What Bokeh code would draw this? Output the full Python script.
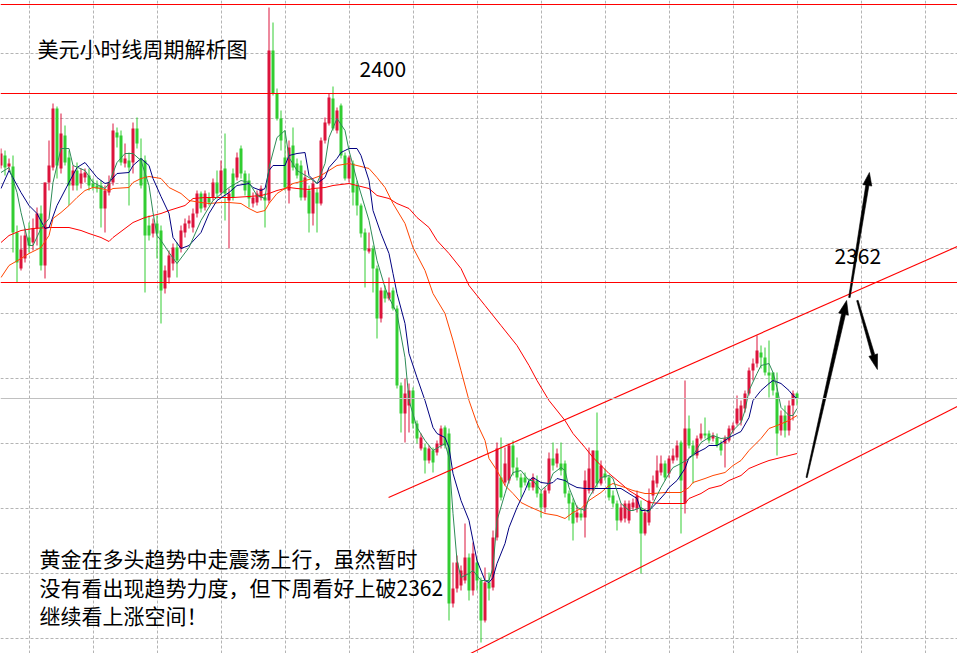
import math
from bokeh.plotting import figure
from bokeh.models import Range1d, FixedTicker, Span, Label, ColumnDataSource
from bokeh.embed import file_html
from bokeh.resources import INLINE

# ---------------- data (hourly candles, price units) ----------------
open_ = [2385.6, 2387.6, 2385.4, 2385.4, 2372.2, 2365.0, 2367.0, 2371.2, 2370.2, 2373.0,
         2376.0, 2365.6, 2382.2, 2385.2, 2397.0, 2385.0, 2391.6, 2387.2, 2381.6, 2384.6,
         2382.0, 2383.2, 2383.6, 2382.0, 2381.6, 2381.6, 2377.0, 2380.2, 2382.2, 2392.2,
         2391.6, 2386.0, 2386.6, 2386.2, 2393.0, 2387.0, 2386.6, 2373.6, 2372.0, 2374.0,
         2372.6, 2361.0, 2363.2, 2366.0, 2369.2, 2369.0, 2372.2, 2374.0, 2373.2, 2376.0,
         2380.0, 2377.2, 2379.2, 2379.2, 2382.2, 2380.2, 2385.0, 2378.6, 2384.0, 2383.2,
         2389.0, 2384.0, 2382.6, 2378.0, 2378.2, 2379.2, 2379.2, 2378.6, 2408.6, 2400.0,
         2395.0, 2387.2, 2380.6, 2389.6, 2386.0, 2385.6, 2379.2, 2380.6, 2376.0, 2380.2,
         2378.0, 2390.6, 2394.0, 2399.0, 2392.6, 2397.6, 2387.6, 2383.0, 2386.0, 2381.6,
         2377.6, 2372.2, 2368.4, 2369.0, 2365.0, 2355.0, 2360.6, 2359.0, 2360.6, 2357.0,
         2341.6, 2336.0, 2337.6, 2340.6, 2334.0, 2329.0, 2329.2, 2326.6, 2328.6, 2328.2,
         2329.6, 2333.2, 2332.0, 2298.0, 2301.0, 2301.6, 2302.6, 2307.2, 2300.6, 2306.2,
         2302.6, 2294.6, 2302.2, 2301.2, 2311.2, 2323.2, 2322.2, 2322.6, 2329.6, 2325.2,
         2323.2, 2323.2, 2322.2, 2321.2, 2322.6, 2320.0, 2317.2, 2320.6, 2327.0, 2326.0,
         2326.0, 2326.0, 2320.0, 2318.2, 2315.2, 2316.0, 2315.2, 2320.6, 2320.6, 2328.6,
         2322.0, 2324.0, 2323.2, 2319.6, 2318.0, 2314.6, 2315.0, 2314.6, 2317.2, 2317.0,
         2317.0, 2312.0, 2314.2, 2319.6, 2322.0, 2324.2, 2326.0, 2324.0, 2326.6, 2327.2,
         2330.2, 2318.0, 2333.0, 2329.6, 2327.6, 2331.0, 2332.0, 2332.0, 2331.0, 2331.2,
         2330.0, 2330.0, 2330.6, 2332.6, 2334.0, 2334.6, 2337.0, 2340.0, 2344.6, 2346.0,
         2348.2, 2347.2, 2344.2, 2344.2, 2340.2, 2332.6, 2335.6, 2332.6, 2337.6, 2340.0]
high = [2389.0, 2388.6, 2387.0, 2387.6, 2373.6, 2371.6, 2373.0, 2374.2, 2375.0, 2377.2,
        2377.6, 2382.2, 2390.6, 2398.0, 2397.4, 2396.0, 2393.6, 2388.6, 2385.6, 2386.2,
        2385.0, 2385.0, 2385.0, 2383.0, 2382.6, 2382.6, 2381.6, 2383.6, 2394.0, 2393.2,
        2392.6, 2390.0, 2388.2, 2394.2, 2395.2, 2391.0, 2387.6, 2375.6, 2375.0, 2375.6,
        2373.6, 2365.6, 2368.6, 2370.0, 2370.2, 2373.6, 2375.0, 2375.6, 2377.0, 2380.6,
        2380.4, 2380.6, 2380.2, 2383.0, 2384.6, 2386.6, 2392.0, 2381.0, 2385.0, 2388.2,
        2389.6, 2384.6, 2384.0, 2380.2, 2380.6, 2381.6, 2380.0, 2417.2, 2414.2, 2401.0,
        2396.6, 2392.6, 2390.6, 2393.2, 2387.0, 2386.6, 2384.6, 2381.6, 2382.6, 2381.0,
        2391.2, 2395.2, 2400.0, 2401.4, 2397.2, 2398.0, 2388.2, 2387.6, 2386.6, 2382.6,
        2378.0, 2373.0, 2372.2, 2369.6, 2365.6, 2361.2, 2361.6, 2363.2, 2361.2, 2357.6,
        2342.2, 2343.0, 2342.0, 2341.2, 2334.6, 2332.0, 2330.0, 2329.6, 2329.2, 2330.6,
        2333.6, 2333.6, 2333.0, 2306.2, 2307.6, 2305.6, 2314.0, 2308.0, 2310.2, 2307.0,
        2303.2, 2305.2, 2304.2, 2312.6, 2330.2, 2331.2, 2329.2, 2330.0, 2330.6, 2327.2,
        2324.0, 2324.2, 2323.0, 2324.0, 2323.6, 2320.6, 2321.2, 2328.2, 2330.2, 2329.0,
        2330.2, 2326.6, 2320.6, 2319.0, 2317.6, 2317.0, 2324.6, 2329.2, 2328.6, 2336.2,
        2326.6, 2325.0, 2323.6, 2320.6, 2318.6, 2318.0, 2318.6, 2318.6, 2319.0, 2320.6,
        2318.6, 2317.0, 2321.0, 2323.6, 2327.6, 2327.6, 2326.6, 2327.6, 2329.0, 2330.6,
        2330.6, 2342.6, 2335.6, 2330.6, 2331.6, 2334.0, 2335.2, 2332.6, 2332.2, 2332.0,
        2330.6, 2331.6, 2333.6, 2334.2, 2339.6, 2338.6, 2340.6, 2345.2, 2347.0, 2351.6,
        2349.6, 2349.2, 2350.6, 2344.2, 2344.2, 2336.6, 2337.6, 2338.6, 2340.6, 2340.2]
low = [2385.0, 2383.6, 2384.6, 2368.2, 2362.2, 2364.6, 2366.2, 2368.2, 2368.6, 2369.6,
       2364.6, 2363.0, 2380.6, 2384.6, 2383.0, 2384.0, 2385.6, 2377.6, 2380.6, 2380.6,
       2381.0, 2382.2, 2380.6, 2380.6, 2380.2, 2373.2, 2372.2, 2379.6, 2381.6, 2389.2,
       2385.6, 2385.2, 2377.6, 2384.0, 2389.0, 2381.0, 2360.2, 2370.6, 2371.2, 2367.0,
       2354.0, 2360.0, 2362.0, 2364.6, 2363.2, 2368.2, 2371.2, 2373.0, 2372.2, 2375.2,
       2376.2, 2376.6, 2377.6, 2378.6, 2379.0, 2379.6, 2374.6, 2369.0, 2378.6, 2382.6,
       2383.0, 2379.6, 2377.2, 2377.2, 2377.6, 2378.6, 2373.2, 2378.0, 2399.6, 2394.6,
       2388.6, 2380.6, 2378.0, 2384.6, 2383.0, 2378.6, 2378.6, 2372.2, 2373.6, 2372.2,
       2377.6, 2390.0, 2393.6, 2392.6, 2392.0, 2387.0, 2382.6, 2382.2, 2377.6, 2375.6,
       2371.2, 2361.2, 2368.0, 2360.2, 2351.0, 2354.2, 2358.2, 2358.6, 2356.6, 2341.0,
       2332.2, 2330.2, 2332.2, 2333.0, 2330.0, 2328.6, 2324.0, 2326.0, 2324.2, 2327.6,
       2329.0, 2329.0, 2294.6, 2297.2, 2300.2, 2300.6, 2302.0, 2298.6, 2299.6, 2300.6,
       2290.2, 2294.2, 2298.6, 2300.6, 2310.6, 2318.6, 2321.6, 2322.0, 2323.6, 2322.6,
       2319.2, 2321.6, 2320.6, 2320.6, 2319.2, 2315.2, 2316.2, 2320.0, 2324.6, 2325.2,
       2323.6, 2319.2, 2314.6, 2310.6, 2314.2, 2314.6, 2311.2, 2320.0, 2320.0, 2321.2,
       2321.6, 2322.6, 2318.6, 2317.2, 2312.6, 2314.2, 2314.2, 2314.0, 2316.6, 2316.2,
       2304.0, 2311.6, 2313.6, 2318.6, 2321.2, 2323.6, 2322.6, 2323.2, 2326.0, 2326.6,
       2312.0, 2316.0, 2329.0, 2322.0, 2327.0, 2330.6, 2331.0, 2330.0, 2330.4, 2329.2,
       2327.6, 2325.2, 2330.2, 2332.0, 2333.6, 2333.6, 2336.2, 2339.6, 2342.6, 2345.2,
       2345.0, 2343.6, 2339.2, 2339.6, 2327.6, 2331.6, 2331.2, 2331.6, 2334.6, 2337.6]
close = [2388.0, 2385.2, 2386.0, 2372.2, 2366.2, 2368.8, 2371.6, 2369.6, 2373.0, 2376.0,
         2365.6, 2382.2, 2385.6, 2397.0, 2385.6, 2392.0, 2386.2, 2381.6, 2384.6, 2381.6,
         2384.0, 2384.2, 2381.6, 2381.2, 2381.0, 2377.0, 2380.6, 2382.2, 2392.6, 2391.2,
         2386.2, 2387.0, 2385.2, 2393.0, 2390.0, 2381.6, 2371.6, 2371.6, 2374.0, 2372.0,
         2360.6, 2364.6, 2367.6, 2369.2, 2366.6, 2372.6, 2374.0, 2374.6, 2376.0, 2380.0,
         2377.0, 2380.0, 2378.2, 2382.2, 2380.0, 2384.6, 2380.0, 2380.0, 2379.2, 2387.2,
         2384.0, 2380.6, 2379.0, 2379.2, 2380.0, 2381.0, 2378.6, 2408.6, 2400.0, 2395.0,
         2390.6, 2381.2, 2389.2, 2385.2, 2383.6, 2379.2, 2383.2, 2376.0, 2382.0, 2378.0,
         2390.6, 2394.2, 2399.2, 2393.0, 2396.6, 2387.6, 2383.0, 2387.2, 2380.2, 2377.6,
         2372.0, 2368.6, 2369.0, 2365.0, 2355.0, 2360.6, 2359.0, 2360.2, 2357.0, 2341.6,
         2336.0, 2340.0, 2340.6, 2334.0, 2331.0, 2331.2, 2326.6, 2329.0, 2326.2, 2330.0,
         2333.0, 2329.6, 2298.0, 2301.0, 2306.2, 2304.6, 2307.2, 2300.6, 2308.0, 2302.6,
         2294.6, 2302.2, 2301.0, 2311.2, 2329.0, 2319.2, 2326.0, 2329.6, 2325.2, 2323.2,
         2321.2, 2322.2, 2321.2, 2323.2, 2320.0, 2317.2, 2320.6, 2327.0, 2325.6, 2328.0,
         2324.6, 2320.0, 2318.0, 2314.0, 2316.2, 2315.2, 2322.6, 2325.0, 2328.6, 2322.0,
         2325.6, 2323.2, 2319.2, 2318.0, 2314.6, 2317.2, 2318.0, 2318.0, 2318.2, 2319.6,
         2312.0, 2316.2, 2318.6, 2322.6, 2324.6, 2326.0, 2323.2, 2327.0, 2327.6, 2329.6,
         2322.6, 2333.0, 2329.6, 2327.6, 2331.0, 2332.0, 2331.6, 2330.6, 2331.6, 2329.6,
         2328.6, 2331.0, 2333.0, 2333.6, 2337.0, 2337.6, 2340.0, 2344.6, 2346.0, 2348.6,
         2347.2, 2344.2, 2343.6, 2340.6, 2332.0, 2335.6, 2332.6, 2337.6, 2340.0, 2339.0]

# moving averages (bar index, price)
ma_fast_idx = [0, 2, 4, 5, 7, 8, 10, 12, 13, 15, 17, 18, 21, 23, 26, 27, 29, 31, 33, 35, 37, 38, 39, 40, 42, 44, 47,
               50, 53, 57, 60, 62, 64, 66, 67, 69, 71, 72, 74, 77, 79, 81, 82, 84, 86, 87, 89, 92, 94, 96, 97, 99,
               101, 102, 104, 106, 108, 111, 112, 113, 114, 115, 117, 118, 120, 122, 123, 124, 126, 127, 128, 130,
               132, 133, 135, 137, 138, 140, 141, 142, 144, 146, 147, 150, 152, 153, 155, 157, 158, 160, 162, 163,
               165, 167, 168, 170, 172, 173, 175, 177, 178, 180, 182, 183, 185, 186, 187, 189, 190, 192, 193, 194,
               195, 197, 198, 199]
ma_fast_val = [2384.2, 2385.2, 2380.2, 2376.2, 2369.6, 2369.6, 2373.0, 2375.0, 2382.2, 2389.0, 2389.0, 2385.6,
               2384.6, 2382.2, 2381.0, 2382.0, 2386.2, 2388.0, 2388.0, 2386.6, 2381.6, 2376.2, 2371.6, 2370.6,
               2368.2, 2366.0, 2369.2, 2374.6, 2378.6, 2381.2, 2382.6, 2382.2, 2379.6, 2379.0, 2385.2, 2391.2,
               2392.6, 2387.2, 2384.6, 2383.2, 2382.0, 2386.0, 2391.2, 2395.0, 2392.6, 2388.6, 2382.6, 2374.6,
               2366.6, 2361.2, 2359.2, 2356.0, 2347.2, 2338.6, 2333.2, 2330.6, 2328.6, 2330.0, 2327.2, 2316.0,
               2306.6, 2303.2, 2304.0, 2304.6, 2302.6, 2302.6, 2305.2, 2314.6, 2320.0, 2322.6, 2324.2, 2324.6,
               2322.6, 2322.6, 2320.6, 2322.0, 2324.0, 2325.2, 2324.6, 2321.2, 2317.2, 2316.6, 2319.2, 2323.2,
               2323.6, 2323.0, 2318.0, 2316.6, 2316.6, 2317.2, 2316.2, 2318.0, 2321.2, 2324.0, 2325.2, 2326.0,
               2327.0, 2327.6, 2330.2, 2331.2, 2331.6, 2331.0, 2331.2, 2332.6, 2334.2, 2336.6, 2340.6, 2344.0,
               2345.6, 2346.0, 2344.2, 2341.2, 2337.2, 2335.6, 2335.6, 2337.0]
ma_mid_idx = [0, 2, 5, 7, 9, 11, 12, 14, 17, 19, 21, 22, 24, 26, 27, 29, 32, 33, 35, 37, 38, 40, 42, 43, 45, 47,
              50, 52, 54, 57, 59, 62, 63, 65, 66, 67, 68, 71, 72, 74, 76, 77, 79, 81, 82, 84, 85, 87, 89, 90, 92,
              93, 95, 97, 98, 99, 101, 102, 104, 106, 108, 109, 111, 112, 113, 115, 117, 118, 119, 121, 122, 123,
              124, 126, 127, 129, 131, 132, 133, 135, 137, 138, 139, 141, 142, 144, 146, 147, 150, 152, 155, 157,
              159, 160, 162, 164, 166, 167, 169, 171, 172, 174, 176, 177, 179, 181, 182, 185, 187, 188, 190, 192,
              193, 195, 197, 198, 199]
ma_mid_val = [2381.0, 2384.6, 2380.2, 2377.6, 2376.0, 2373.0, 2373.2, 2377.6, 2382.2, 2385.2, 2386.2, 2385.2,
              2383.2, 2382.0, 2382.2, 2384.0, 2384.2, 2385.6, 2387.0, 2385.6, 2383.0, 2379.4, 2376.0, 2371.2,
              2369.0, 2369.6, 2372.2, 2376.0, 2378.6, 2380.2, 2381.6, 2382.0, 2381.2, 2380.6, 2381.0, 2384.6,
              2385.6, 2385.6, 2387.6, 2388.0, 2388.2, 2383.6, 2382.0, 2383.2, 2385.2, 2387.0, 2388.2, 2389.0,
              2389.0, 2387.6, 2382.6, 2376.6, 2372.0, 2368.0, 2364.0, 2360.0, 2354.0, 2348.0, 2343.2, 2338.6,
              2333.2, 2332.0, 2331.2, 2329.2, 2324.0, 2318.6, 2314.6, 2310.6, 2306.6, 2302.6, 2302.2, 2303.2,
              2306.0, 2310.0, 2313.2, 2317.2, 2320.6, 2322.6, 2323.2, 2322.2, 2322.0, 2322.2, 2323.0, 2322.6,
              2322.0, 2321.2, 2321.0, 2321.0, 2321.0, 2321.0, 2321.0, 2320.0, 2319.0, 2316.6, 2316.6, 2318.2,
              2320.0, 2321.2, 2322.6, 2325.0, 2327.2, 2328.2, 2329.0, 2329.6, 2329.6, 2330.6, 2331.2, 2332.4,
              2335.2, 2338.6, 2340.6, 2342.0, 2342.6, 2342.0, 2340.6, 2339.6, 2339.0]
ma_slow_idx = [0, 2, 5, 7, 10, 12, 13, 15, 17, 19, 21, 23, 25, 27, 28, 32, 33, 35, 37, 40, 42, 45, 47, 50, 52, 55,
               57, 60, 62, 64, 66, 67, 69, 71, 73, 76, 78, 80, 82, 84, 87, 89, 92, 94, 96, 98, 101, 103, 106, 108,
               111, 113, 115, 117, 119, 121, 122, 124, 126, 128, 130, 132, 136, 139, 141, 143, 145, 147, 150, 152,
               153, 156, 158, 161, 163, 166, 168, 170, 172, 173, 176, 178, 181, 183, 185, 187, 190, 192, 194, 197,
               199]
ma_slow_val = [2363.2, 2365.6, 2367.0, 2368.0, 2369.2, 2371.6, 2375.0, 2376.2, 2377.6, 2379.2, 2380.6, 2381.2,
               2381.0, 2380.6, 2381.0, 2381.2, 2382.2, 2383.0, 2383.4, 2383.0, 2381.2, 2380.0, 2378.6, 2378.2,
               2378.0, 2378.2, 2378.2, 2378.0, 2377.0, 2376.2, 2376.6, 2378.0, 2380.0, 2381.0, 2382.0, 2382.6,
               2383.0, 2383.6, 2384.6, 2385.6, 2386.0, 2385.6, 2385.0, 2383.2, 2381.2, 2378.0, 2374.0, 2369.2,
               2364.6, 2360.0, 2356.0, 2350.6, 2344.6, 2338.6, 2334.0, 2330.6, 2327.0, 2324.6, 2321.6, 2320.0,
               2318.2, 2317.4, 2316.0, 2315.6, 2315.0, 2316.2, 2317.0, 2318.6, 2320.2, 2321.6, 2322.0, 2321.2,
               2320.6, 2320.0, 2320.0, 2320.2, 2320.2, 2320.2, 2321.2, 2322.2, 2323.0, 2323.6, 2324.2, 2325.6,
               2326.6, 2328.6, 2331.0, 2333.0, 2333.6, 2334.6, 2335.6]
ma_long_idx = [0, 2, 5, 8, 12, 17, 20, 22, 25, 27, 28, 31, 33, 36, 38, 40, 42, 46, 48, 51, 54, 58, 62, 65, 67, 69,
               72, 74, 77, 78, 81, 83, 87, 89, 92, 94, 97, 99, 102, 104, 107, 109, 112, 115, 117, 121, 125, 129,
               132, 134, 137, 141, 143, 146, 148, 152, 155, 157, 159, 162, 165, 168, 171, 172, 175, 177, 180, 182,
               185, 187, 190, 192, 195, 199]
ma_long_val = [2370.2, 2371.6, 2372.6, 2373.0, 2373.2, 2373.2, 2372.6, 2372.0, 2371.2, 2370.4, 2371.2, 2373.0,
               2374.2, 2375.2, 2375.6, 2376.0, 2376.6, 2377.6, 2379.0, 2379.2, 2379.2, 2379.2, 2379.4, 2379.6,
               2380.0, 2380.6, 2381.2, 2381.0, 2380.8, 2381.0, 2381.2, 2381.6, 2382.0, 2381.6, 2381.0, 2379.6,
               2379.0, 2378.0, 2377.0, 2375.2, 2373.2, 2370.6, 2368.0, 2365.0, 2361.6, 2357.6, 2353.6, 2349.6,
               2345.6, 2342.6, 2338.6, 2334.6, 2332.0, 2329.2, 2327.2, 2324.0, 2322.0, 2320.6, 2319.6, 2318.2,
               2318.0, 2318.0, 2318.0, 2319.0, 2320.0, 2321.0, 2321.6, 2322.6, 2323.6, 2325.0, 2326.0, 2326.6,
               2327.2, 2328.0]

# horizontal levels, channel and arrows (bar index, price)
level_prices = [2417.8, 2400.0, 2362.2]
current_price = 2339.0
channel_upper_idx = [96.9, 239.1]
channel_upper_val = [2319.2, 2369.4]
channel_lower_idx = [117.4, 239.1]
channel_lower_val = [2288.0, 2337.4]
arrow_start_idx = [201.4, 212.1, 214.1]
arrow_start_val = [2323.2, 2359.2, 2358.6]
arrow_tip_idx = [211.4, 217.1, 219.1]
arrow_tip_val = [2358.6, 2384.2, 2344.8]

grid_idx = [7, 23, 39, 55, 71, 87, 103, 119, 135, 151, 167, 183, 199, 215, 231]
grid_price = [2408, 2395, 2382, 2369, 2356, 2343, 2330, 2317, 2304, 2291]

title_text = "美元小时线周期解析图"
note_lines = ["黄金在多头趋势中走震荡上行，虽然暂时",
              "没有看出现趋势力度，但下周看好上破2362",
              "继续看上涨空间！"]
level_labels = ["2400", "2362"]

# ---------------- layout ----------------
W, H = 957, 653
PX_X, PX_Y = 4.0, 5.0
X0 = -0.125
X1 = X0 + W / PX_X
YT = 2418.6
YB = YT - H / PX_Y

def dx(px):
    return X0 + px / PX_X

def dy(py):
    return YT - py / PX_Y

UP, DOWN = "#dc143c", "#32cd32"
FONT = "Noto Sans CJK SC"

p = figure(width=W, height=H, x_range=Range1d(X0, X1), y_range=Range1d(YB, YT),
           output_backend="svg", toolbar_location=None,
           x_axis_location=None, y_axis_location=None, min_border=0,
           outline_line_color=None, background_fill_color="white",
           border_fill_color="white")
p.xgrid.ticker = FixedTicker(ticks=grid_idx)
p.ygrid.ticker = FixedTicker(ticks=grid_price)
p.xgrid.grid_line_color = "#b4b4b4"
p.ygrid.grid_line_color = "#b4b4b4"
p.xgrid.grid_line_dash = "3 2"
p.ygrid.grid_line_dash = "3 2"
p.xgrid.grid_line_width = 1
p.ygrid.grid_line_width = 1

for lv in level_prices:
    p.add_layout(Span(location=lv, dimension="width", line_color="#ff0000", line_width=1))
p.add_layout(Span(location=current_price, dimension="width", line_color="#c0c0c0", line_width=1))

idx = list(range(len(close)))
cols = [UP if c >= o else DOWN for o, c in zip(open_, close)]
src = ColumnDataSource(dict(
    x=idx, o=open_, h=high, l=low, c=close,
    top=[max(o, c) for o, c in zip(open_, close)],
    bot=[min(o, c) for o, c in zip(open_, close)],
    col=cols))
p.segment(x0="x", y0="l", x1="x", y1="h", line_color="col", line_width=1, source=src)
p.vbar(x="x", width=0.75, top="top", bottom="bot", fill_color="col", line_color=None, source=src)

p.line(ma_long_idx, ma_long_val, line_color="#ff0000", line_width=1)
p.line(ma_slow_idx, ma_slow_val, line_color="#ff4500", line_width=1)
p.line(ma_mid_idx, ma_mid_val, line_color="#000080", line_width=1)
p.line(ma_fast_idx, ma_fast_val, line_color="#2e8b57", line_width=1)

p.line(channel_upper_idx, channel_upper_val, line_color="#ff0000", line_width=1.1)
p.line(channel_lower_idx, channel_lower_val, line_color="#ff0000", line_width=1.1)

def arrow_poly(xs, ys, xt, yt, w0, w1, hl, hw):
    sx, sy = (xs - X0) * PX_X, (YT - ys) * PX_Y
    tx, ty = (xt - X0) * PX_X, (YT - yt) * PX_Y
    L = math.hypot(tx - sx, ty - sy)
    ux, uy = (tx - sx) / L, (ty - sy) / L
    nx, ny = -uy, ux
    bx, by = tx - ux * hl, ty - uy * hl
    pts = [(sx + nx * w0 / 2, sy + ny * w0 / 2), (bx + nx * w1 / 2, by + ny * w1 / 2),
           (bx + nx * hw / 2, by + ny * hw / 2), (tx, ty),
           (bx - nx * hw / 2, by - ny * hw / 2), (bx - nx * w1 / 2, by - ny * w1 / 2),
           (sx - nx * w0 / 2, sy - ny * w0 / 2)]
    return [dx(a) for a, _ in pts], [dy(b) for _, b in pts]

arrow_shape = [(1.2, 4.0, 14, 10), (1.5, 3.2, 13, 9), (1.5, 3.2, 15, 9)]
for i in range(3):
    w0, w1, hl, hw = arrow_shape[i]
    ax, ay = arrow_poly(arrow_start_idx[i], arrow_start_val[i], arrow_tip_idx[i], arrow_tip_val[i],
                        w0, w1, hl, hw)
    p.patch(ax, ay, fill_color="black", line_color="black", line_width=0.6)

def add_label(px, py, txt):
    p.add_layout(Label(x=dx(px), y=dy(py), text=txt, text_font=FONT, text_font_size="21px",
                       text_color="black", text_baseline="middle", text_align="left"))

add_label(37, 47, title_text)
add_label(359, 68, level_labels[0])
add_label(834, 255, level_labels[1])
for j, line in enumerate(note_lines):
    add_label(39, 557.5 + 28.7 * j, line)

html = file_html(p, INLINE, title="美元小时线周期解析图")
html = html.replace("<head>", "<head><style>html,body{margin:0;padding:0;overflow:hidden;}</style>", 1)
open("out.html", "w", encoding="utf-8").write(html)
